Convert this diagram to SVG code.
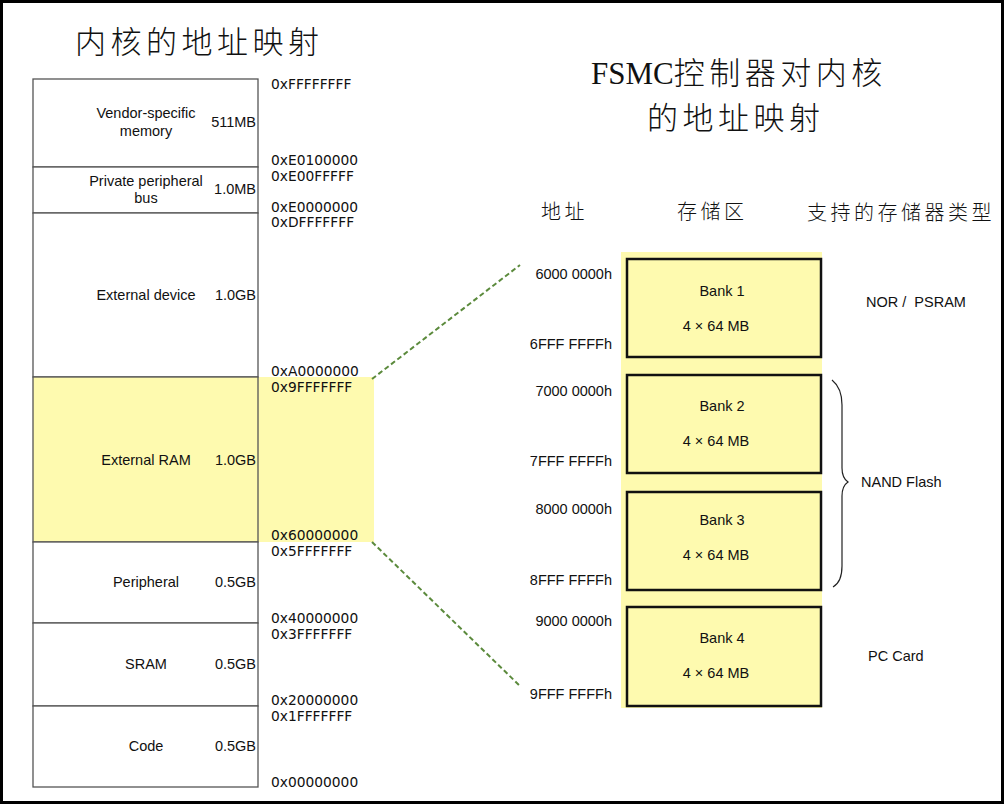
<svg xmlns="http://www.w3.org/2000/svg" width="1005" height="805" viewBox="0 0 1005 805">
<style>
.frame{fill:#fff;stroke:#000;stroke-width:3}
.mem{fill:#fff;stroke:#555;stroke-width:1.3}
.memy{fill:#fefaaf;stroke:#555;stroke-width:1.3}
.lbl{font-family:"Liberation Sans",Arial,sans-serif;font-size:14.5px;fill:#111}
.size{font-family:"Liberation Sans",Arial,sans-serif;font-size:14.5px;fill:#111;text-anchor:end}
.addr{font-family:"DejaVu Sans",sans-serif;font-size:13.8px;fill:#111}
.raddr{font-family:"Liberation Sans",Arial,sans-serif;font-size:14.5px;fill:#111;text-anchor:end}
.title{font-family:"Noto Sans CJK SC",sans-serif;font-size:31px;font-weight:300;fill:#111;letter-spacing:4.5px}
.head{font-family:"Noto Sans CJK SC",sans-serif;font-size:20px;font-weight:300;fill:#111;letter-spacing:3.5px}
.bank{fill:#fefaaf;stroke:#111;stroke-width:2.5}
.conn{fill:none;stroke:#5b8a3c;stroke-width:2;stroke-dasharray:5 3}
.mid{text-anchor:middle}
</style>
<rect class="frame" x="1.5" y="1.5" width="1001" height="801"/>
<text class="title" x="75" y="53">内核的地址映射</text>
<text class="title" x="591" y="84"><tspan font-family="Liberation Serif,serif" letter-spacing="0">FSMC</tspan>控制器对内核</text>
<text class="title" x="647" y="129">的地址映射</text>
<text class="head" x="541" y="219">地址</text>
<text class="head" x="677" y="219">存储区</text>
<text class="head" x="807" y="220">支持的存储器类型</text>

<g id="extram-highlight"><rect x="258" y="377" width="116" height="165" fill="#fefaaf"/></g>

<g id="mem-vendor"><rect class="mem" x="33" y="79" width="225" height="88"/>
<text class="lbl mid" x="146" y="118">Vendor-specific</text><text class="lbl mid" x="146" y="136">memory</text><text class="size" x="256" y="127">511MB</text></g>
<g id="mem-ppb"><rect class="mem" x="33" y="167" width="225" height="46"/>
<text class="lbl mid" x="146" y="186">Private peripheral</text><text class="lbl mid" x="146" y="203">bus</text><text class="size" x="256" y="194">1.0MB</text></g>
<g id="mem-extdev"><rect class="mem" x="33" y="213" width="225" height="164"/>
<text class="lbl mid" x="146" y="300">External device</text><text class="size" x="256" y="300">1.0GB</text></g>
<g id="mem-extram"><rect class="memy" x="33" y="377" width="225" height="165"/>
<text class="lbl mid" x="146" y="465">External RAM</text><text class="size" x="256" y="465">1.0GB</text></g>
<g id="mem-periph"><rect class="mem" x="33" y="542" width="225" height="81"/>
<text class="lbl mid" x="146" y="587">Peripheral</text><text class="size" x="256" y="587">0.5GB</text></g>
<g id="mem-sram"><rect class="mem" x="33" y="623" width="225" height="83"/>
<text class="lbl mid" x="146" y="669">SRAM</text><text class="size" x="256" y="669">0.5GB</text></g>
<g id="mem-code"><rect class="mem" x="33" y="706" width="225" height="81"/>
<text class="lbl mid" x="146" y="751">Code</text><text class="size" x="256" y="751">0.5GB</text></g>

<g id="addr-left">
<text class="addr" x="271" y="89">0xFFFFFFFF</text>
<text class="addr" x="271" y="165">0xE0100000</text>
<text class="addr" x="271" y="181">0xE00FFFFF</text>
<text class="addr" x="271" y="212">0xE0000000</text>
<text class="addr" x="271" y="227">0xDFFFFFFF</text>
<text class="addr" x="271" y="376">0xA0000000</text>
<text class="addr" x="271" y="392">0x9FFFFFFF</text>
<text class="addr" x="271" y="540">0x60000000</text>
<text class="addr" x="271" y="556">0x5FFFFFFF</text>
<text class="addr" x="271" y="623">0x40000000</text>
<text class="addr" x="271" y="639">0x3FFFFFFF</text>
<text class="addr" x="271" y="705">0x20000000</text>
<text class="addr" x="271" y="721">0x1FFFFFFF</text>
<text class="addr" x="271" y="787">0x00000000</text>
</g>

<g id="fsmc-bg"><rect x="621" y="252" width="201" height="456" fill="#fefaaf"/></g>
<g id="bank1"><rect class="bank" x="627" y="259" width="194" height="98"/>
<text class="lbl mid" x="722" y="296">Bank 1</text><text class="lbl mid" x="716" y="331">4 × 64 MB</text></g>
<g id="bank2"><rect class="bank" x="627" y="375" width="194" height="98"/>
<text class="lbl mid" x="722" y="411">Bank 2</text><text class="lbl mid" x="716" y="446">4 × 64 MB</text></g>
<g id="bank3"><rect class="bank" x="627" y="492" width="194" height="98"/>
<text class="lbl mid" x="722" y="525">Bank 3</text><text class="lbl mid" x="716" y="560">4 × 64 MB</text></g>
<g id="bank4"><rect class="bank" x="627" y="607" width="194" height="99"/>
<text class="lbl mid" x="722" y="643">Bank 4</text><text class="lbl mid" x="716" y="678">4 × 64 MB</text></g>

<g id="addr-right">
<text class="raddr" x="612" y="279">6000 0000h</text>
<text class="raddr" x="612" y="349">6FFF FFFFh</text>
<text class="raddr" x="612" y="396">7000 0000h</text>
<text class="raddr" x="612" y="466">7FFF FFFFh</text>
<text class="raddr" x="612" y="514">8000 0000h</text>
<text class="raddr" x="612" y="585">8FFF FFFFh</text>
<text class="raddr" x="612" y="626">9000 0000h</text>
<text class="raddr" x="612" y="699">9FFF FFFFh</text>
</g>

<g id="types">
<text class="lbl" x="866" y="307" xml:space="preserve">NOR /  PSRAM</text>
<text class="lbl" x="861" y="487">NAND Flash</text>
<text class="lbl" x="868" y="661">PC Card</text>
<path d="M832 380 Q842 388 842 405 L842 468 Q842 478 848 482 Q842 486 842 496 L842 566 Q842 582 833 587" fill="none" stroke="#222" stroke-width="1.2"/>
</g>

<g id="connectors">
<line class="conn" x1="372" y1="379" x2="520" y2="265"/>
<line class="conn" x1="372" y1="542" x2="521" y2="687"/>
</g>
</svg>
